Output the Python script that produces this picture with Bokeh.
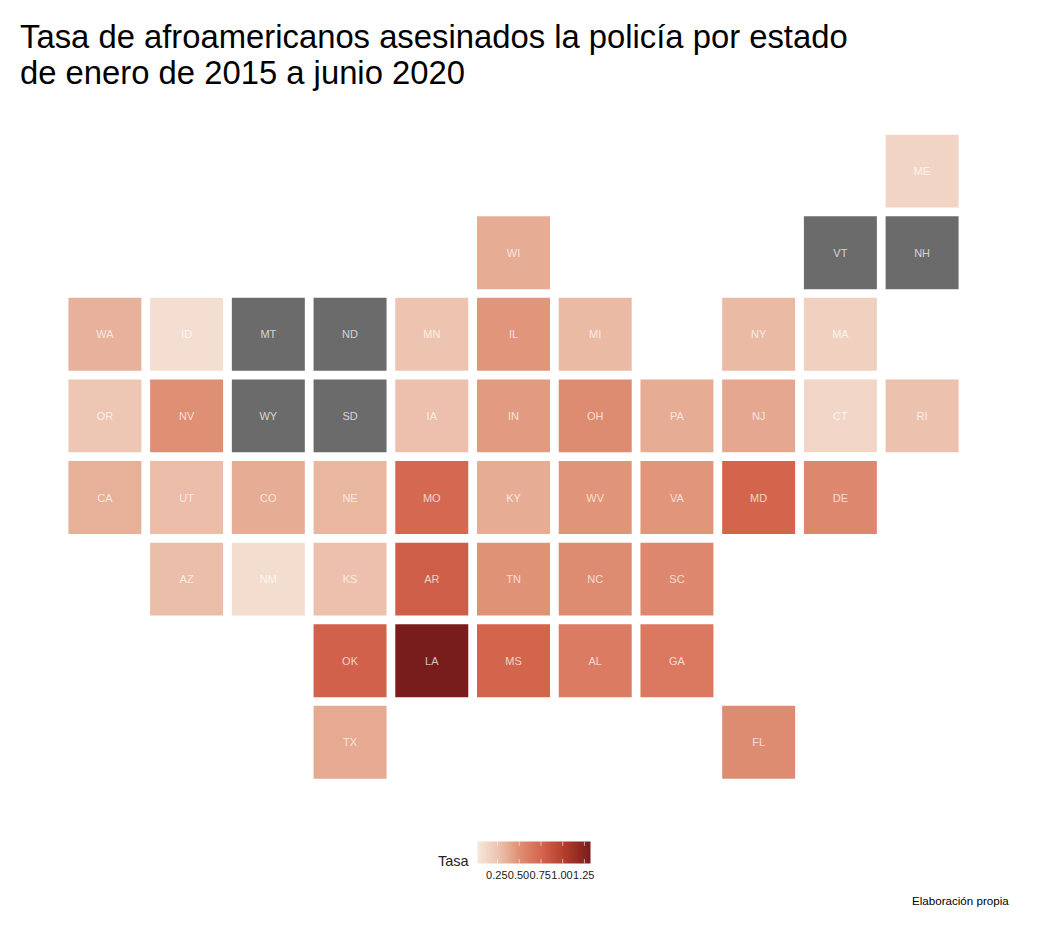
from bokeh.plotting import figure
from bokeh.models import ColumnDataSource, LinearColorMapper, ColorBar, FixedTicker, Label, Range1d
from bokeh.transform import transform
from bokeh.embed import file_html
from bokeh.resources import INLINE

states = ["ME","VT","NH","WI","WA","ID","MT","ND","MN","IL","MI","NY","MA",
          "OR","NV","WY","SD","IA","IN","OH","PA","NJ","CT","RI",
          "CA","UT","CO","NE","MO","KY","WV","VA","MD","DE",
          "AZ","NM","KS","AR","TN","NC","SC","OK","LA","MS","AL","GA","TX","FL"]
cols = [10,9,10,5,0,1,2,3,4,5,6,8,9,
        0,1,2,3,4,5,6,7,8,9,10,
        0,1,2,3,4,5,6,7,8,9,
        1,2,3,4,5,6,7,3,4,5,6,7,3,8]
rows = [0,1,1,1,2,2,2,2,2,2,2,2,2,
        3,3,3,3,3,3,3,3,3,3,3,
        4,4,4,4,4,4,4,4,4,4,
        5,5,5,5,5,5,5,6,6,6,6,6,7,7]
nan = float("nan")
rates = [.15,nan,nan,.38,.35,.08,nan,nan,.25,.47,.30,.30,.17,
         .23,.50,nan,nan,.27,.45,.52,.38,.40,.14,.26,
         .36,.29,.38,.32,.74,.38,.48,.47,.76,.54,
         .28,.09,.27,.80,.49,.52,.54,.78,1.32,.76,.62,.63,.39,.52]
tick_values = [0.25,0.5,0.75,1.0,1.25]
tick_labels = ["0.25","0.50","0.75","1.00","1.25"]
scale_low, scale_high = 0.02, 1.32
stops = [(.02,"#f6e7dc"),(.25,"#edc4b0"),(.38,"#e6ab93"),(.5,"#df8f74"),(.75,"#d5664e"),(1.0,"#b5402f"),(1.32,"#781d1b")]

def hex2rgb(h): return [int(h[i:i+2],16) for i in (1,3,5)]
palette=[]
for i in range(256):
    v = scale_low+(scale_high-scale_low)*i/255
    for (a,ca),(b,cb) in zip(stops,stops[1:]):
        if v<=b+1e-9:
            t=(v-a)/(b-a)
            A,B=hex2rgb(ca),hex2rgb(cb)
            palette.append("#%02x%02x%02x"%tuple(round(x+(y-x)*t) for x,y in zip(A,B)))
            break

W,H=1022,916
PX,PY=81.72,81.6
X0,Y0=104.4,170.6
p=figure(width=W,height=H,output_backend="svg",toolbar_location=None,
         x_range=Range1d(-X0/PX,(W-X0)/PX),
         y_range=Range1d((H-Y0)/PY,-Y0/PY),
         min_border=0,outline_line_color=None,background_fill_color="white")
p.axis.visible=False
p.grid.visible=False

mapper=LinearColorMapper(palette=palette,low=scale_low,high=scale_high,nan_color="#6b6b6b")
src=ColumnDataSource(dict(col=cols,row=rows,rate=rates,state=states))
p.rect("col","row",0.893,0.893,source=src,fill_color=transform("rate",mapper),line_color=None)
p.text("col","row",text="state",source=src,text_color="white",text_alpha=0.72,
       text_font_size="11px",text_align="center",text_baseline="middle",
       text_font={"value":"Liberation Sans"})

def lab(text,x,y,size,color="#000000",align="left"):
    p.add_layout(Label(x=x,y=H-y,x_units="screen",y_units="screen",text=text,text_font="Liberation Sans",
                       text_font_size=size,text_color=color,text_align=align,text_baseline="alphabetic"))
lab("Tasa de afroamericanos asesinados la policía por estado",19.5,36,"32.8px")
lab("de enero de 2015 a junio 2020",19.5,72,"32.8px")
lab("Tasa",437.5,860.5,"14.5px","#222222")
lab("Elaboración propia",911.5,900,"11.6px")

BX,BW=477,113
cb=ColorBar(color_mapper=mapper,orientation="horizontal",width=BW,height=22,location=(BX,53),
            padding=0,margin=0,background_fill_alpha=0,
            ticker=FixedTicker(ticks=[]),
            major_label_text_font_size="1px",label_standoff=0,
            major_tick_line_color=None,minor_tick_line_color=None,bar_line_color=None)
p.add_layout(cb,"center")

tick_px=[BX+(v-scale_low)/(scale_high-scale_low)*BW for v in tick_values]
tick_x=[(t-X0)/PX for t in tick_px]
for y0,y1 in ((841,845.4),(858.6,863)):
    p.segment(tick_x,[(y0-Y0)/PY]*5,tick_x,[(y1-Y0)/PY]*5,line_color="white",line_alpha=0.6,line_width=1,level="overlay")
for t,s in zip(tick_px,tick_labels):
    lab(s,t-0.7,874,"11px","#1a1a1a","center")

open("out.html","w").write(file_html(p,INLINE))
